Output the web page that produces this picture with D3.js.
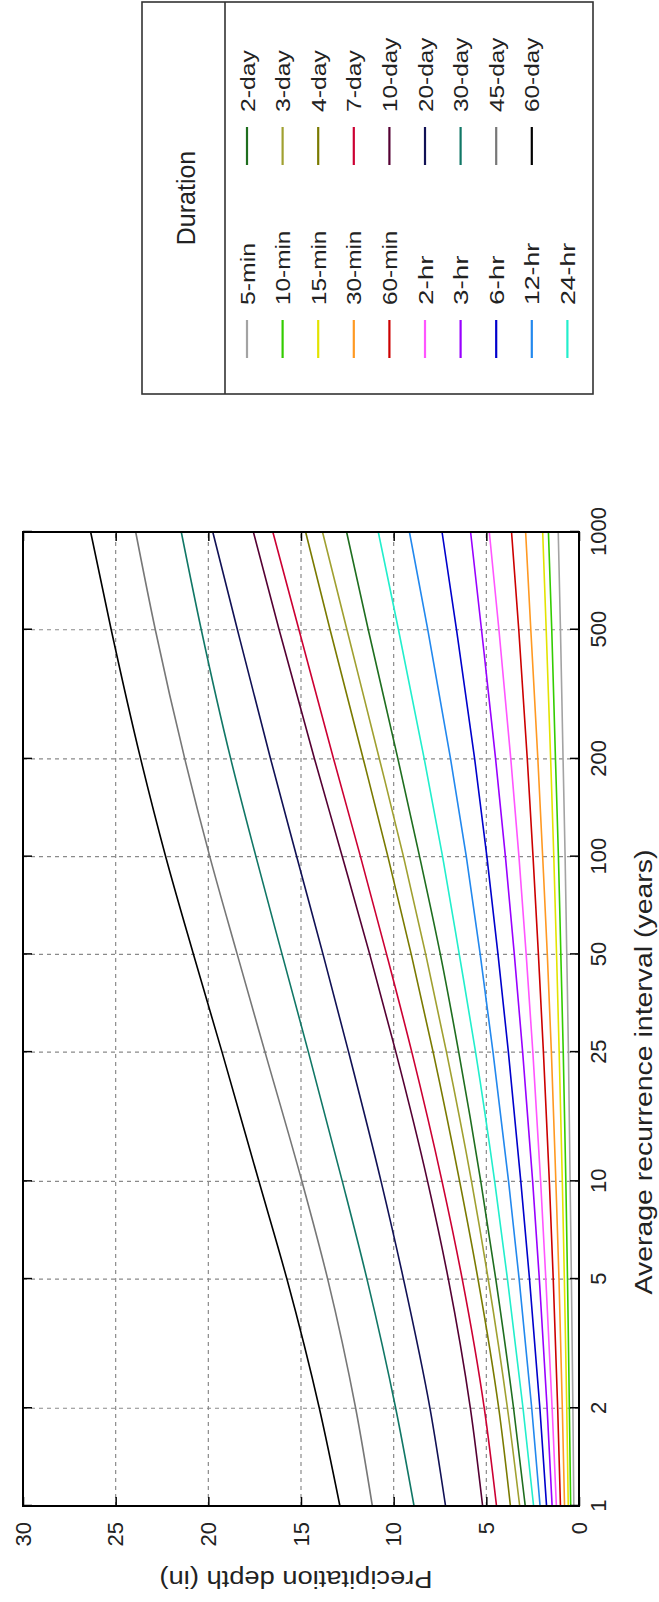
<!DOCTYPE html>
<html>

<head>
    <meta charset="utf-8">
    <script src="https://d3js.org/d3.v7.min.js"></script>
    <style>
        body { margin: 0; background: #fff; }
        text { font-family: "Liberation Sans", Arial, sans-serif; fill: #222; }
        .grid line { stroke: #8a8a8a; stroke-width: 1.2; stroke-dasharray: 4, 4; }
        .axis line { stroke: #000; stroke-width: 1.5; }
        .axis path { display: none; }
    </style>
</head>

<body>
    <svg id="chart" width="659" height="1602"></svg>
    <script>
        // recurrence intervals (years) and depth ticks (in)
        var intervals = [1, 2, 5, 10, 25, 50, 100, 200, 500, 1000];
        var depthTicks = [0, 5, 10, 15, 20, 25, 30];

        var durations = ["5-min", "10-min", "15-min", "30-min", "60-min", "2-hr", "3-hr", "6-hr", "12-hr", "24-hr",
            "2-day", "3-day", "4-day", "7-day", "10-day", "20-day", "30-day", "45-day", "60-day"];
        var colors = ["#a3a3a3", "#33cc00", "#e3e300", "#ff9922", "#cc0000", "#ff55ff", "#9900ff", "#0000cc", "#2288ee", "#22eecc",
            "#1f6e1f", "#a0a030", "#7a7a00", "#cc0033", "#550033", "#111155", "#117766", "#777777", "#000000"];

        // depth values read at each interval
        var d5min = [0.28, 0.33, 0.41, 0.48, 0.57, 0.66, 0.75, 0.86, 1.00, 1.12];
        var d10min = [0.45, 0.52, 0.62, 0.71, 0.85, 0.98, 1.11, 1.27, 1.47, 1.65];
        var d15min = [0.58, 0.66, 0.79, 0.90, 1.07, 1.21, 1.36, 1.53, 1.77, 1.96];
        var d30min = [0.78, 0.90, 1.08, 1.25, 1.49, 1.71, 1.96, 2.22, 2.60, 2.88];
        var d60min = [1.00, 1.15, 1.39, 1.60, 1.92, 2.19, 2.48, 2.79, 3.25, 3.64];
        var d2hr = [1.22, 1.45, 1.79, 2.07, 2.49, 2.85, 3.24, 3.68, 4.32, 4.84];
        var d3hr = [1.45, 1.72, 2.14, 2.50, 3.04, 3.49, 3.97, 4.50, 5.26, 5.85];
        var d6hr = [1.75, 2.11, 2.67, 3.14, 3.81, 4.37, 4.97, 5.63, 6.61, 7.39];
        var d12hr = [2.10, 2.55, 3.23, 3.80, 4.64, 5.33, 6.08, 6.93, 8.16, 9.15];
        var d24hr = [2.45, 3.02, 3.86, 4.55, 5.58, 6.46, 7.36, 8.35, 9.74, 10.83];
        var d2day = [2.90, 3.53, 4.49, 5.30, 6.49, 7.48, 8.60, 9.77, 11.37, 12.54];
        var d3day = [3.20, 3.86, 4.90, 5.80, 7.15, 8.27, 9.47, 10.77, 12.52, 13.84];
        var d4day = [3.70, 4.33, 5.45, 6.44, 7.87, 9.05, 10.31, 11.64, 13.43, 14.75];
        var d7day = [4.45, 5.11, 6.30, 7.39, 9.02, 10.38, 11.79, 13.24, 15.11, 16.52];
        var d10day = [5.20, 5.86, 7.05, 8.17, 9.88, 11.29, 12.77, 14.27, 16.18, 17.57];
        var d20day = [7.20, 8.04, 9.47, 10.68, 12.43, 13.81, 15.23, 16.64, 18.43, 19.76];
        var d30day = [8.90, 9.89, 11.44, 12.77, 14.60, 16.02, 17.43, 18.79, 20.38, 21.46];
        var d45day = [11.15, 12.05, 13.56, 14.95, 16.94, 18.44, 19.92, 21.27, 22.86, 23.92];
        var d60day = [12.90, 14.01, 15.76, 17.27, 19.26, 20.80, 22.30, 23.65, 25.24, 26.35];

        var series = [d5min, d10min, d15min, d30min, d60min, d2hr, d3hr, d6hr, d12hr, d24hr,
            d2day, d3day, d4day, d7day, d10day, d20day, d30day, d45day, d60day];

        // the whole chart is drawn landscape and turned a quarter left
        var W = 1602, H = 659;
        var svg = d3.select("#chart");
        var g = svg.append("g").attr("transform", "translate(0," + W + ") rotate(-90)");

        var plot = { left: 96, right: 1070, top: 23, bottom: 579 };

        var x = d3.scaleLog().domain([1, 1000]).range([plot.left, plot.right]);
        var y = d3.scaleLinear().domain([0, 30]).range([plot.bottom, plot.top]);

        // grid
        var grid = g.append("g").attr("class", "grid");
        grid.selectAll(".vg")
            .data(intervals.slice(1, -1))
            .enter().append("line")
            .attr("x1", d => x(d)).attr("x2", d => x(d))
            .attr("y1", plot.top).attr("y2", plot.bottom);
        grid.selectAll(".hg")
            .data(depthTicks.slice(1, -1))
            .enter().append("line")
            .attr("x1", plot.left).attr("x2", plot.right)
            .attr("y1", d => y(d)).attr("y2", d => y(d));

        // curves
        var line = d3.line()
            .x(d => x(d[0]))
            .y(d => y(d[1]))
            .curve(d3.curveMonotoneX);

        g.append("g").selectAll("path")
            .data(series)
            .enter().append("path")
            .attr("fill", "none")
            .attr("stroke", (d, i) => colors[i])
            .attr("stroke-width", 1.6)
            .attr("d", d => line(d.map((v, j) => [intervals[j], v])));

        // axes with inward ticks on all sides
        g.append("g")
            .attr("class", "axis")
            .attr("transform", "translate(0," + plot.bottom + ")")
            .call(d3.axisBottom(x).tickValues(intervals).tickFormat(d3.format("d"))
                .tickSizeInner(-9).tickSizeOuter(0).tickPadding(11))
            .selectAll("text").style("font-size", "22px").attr("fill", "#222");
        g.append("g")
            .attr("class", "axis")
            .attr("transform", "translate(0," + plot.top + ")")
            .call(d3.axisTop(x).tickValues(intervals).tickFormat("").tickSizeInner(-9).tickSizeOuter(0));
        g.append("g")
            .attr("class", "axis")
            .attr("transform", "translate(" + plot.left + ",0)")
            .call(d3.axisLeft(y).tickValues(depthTicks).tickSizeInner(-9).tickSizeOuter(0).tickPadding(16))
            .selectAll("text").style("font-size", "22px").attr("fill", "#222");
        g.append("g")
            .attr("class", "axis")
            .attr("transform", "translate(" + plot.right + ",0)")
            .call(d3.axisRight(y).tickValues(depthTicks).tickFormat("").tickSizeInner(-9).tickSizeOuter(0));

        g.append("rect")
            .attr("x", plot.left).attr("y", plot.top)
            .attr("width", plot.right - plot.left).attr("height", plot.bottom - plot.top)
            .attr("fill", "none").attr("stroke", "#000").attr("stroke-width", 2);

        // axis titles
        g.append("text")
            .attr("x", 530).attr("y", 652)
            .attr("text-anchor", "middle")
            .attr("textLength", 445).attr("lengthAdjust", "spacingAndGlyphs")
            .style("font-size", "23px")
            .text("Average recurrence interval (years)");
        g.append("text")
            .attr("transform", "translate(31,296) rotate(-90)")
            .attr("text-anchor", "middle")
            .attr("textLength", 273).attr("lengthAdjust", "spacingAndGlyphs")
            .style("font-size", "23px")
            .text("Precipitation depth (in)");

        // legend
        var legend = g.append("g");
        legend.append("rect")
            .attr("x", 1208).attr("y", 142).attr("width", 392).attr("height", 451)
            .attr("fill", "#fff").attr("stroke", "#333").attr("stroke-width", 1.6);
        legend.append("line")
            .attr("x1", 1208).attr("x2", 1600).attr("y1", 225).attr("y2", 225)
            .attr("stroke", "#333").attr("stroke-width", 1.6);
        legend.append("text")
            .attr("x", 1404).attr("y", 195)
            .attr("text-anchor", "middle")
            .style("font-size", "25px")
            .text("Duration");

        var entries = legend.selectAll(".entry")
            .data(durations)
            .enter().append("g")
            .attr("transform", (d, i) => {
                var col = i < 10 ? 0 : 1;
                var row = i < 10 ? i : i - 10;
                return "translate(" + (col === 0 ? 1244 : 1437) + "," + (247 + row * 35.6) + ")";
            });
        entries.append("line")
            .attr("x1", 0).attr("x2", 38)
            .attr("stroke", (d, i) => colors[i])
            .attr("stroke-width", 2.2);
        entries.append("text")
            .attr("x", 53).attr("y", 7.5)
            .style("font-size", "21px")
            .attr("textLength", d => d.length * 12.4)
            .attr("lengthAdjust", "spacingAndGlyphs")
            .text(d => d);
    </script>
</body>

</html>
